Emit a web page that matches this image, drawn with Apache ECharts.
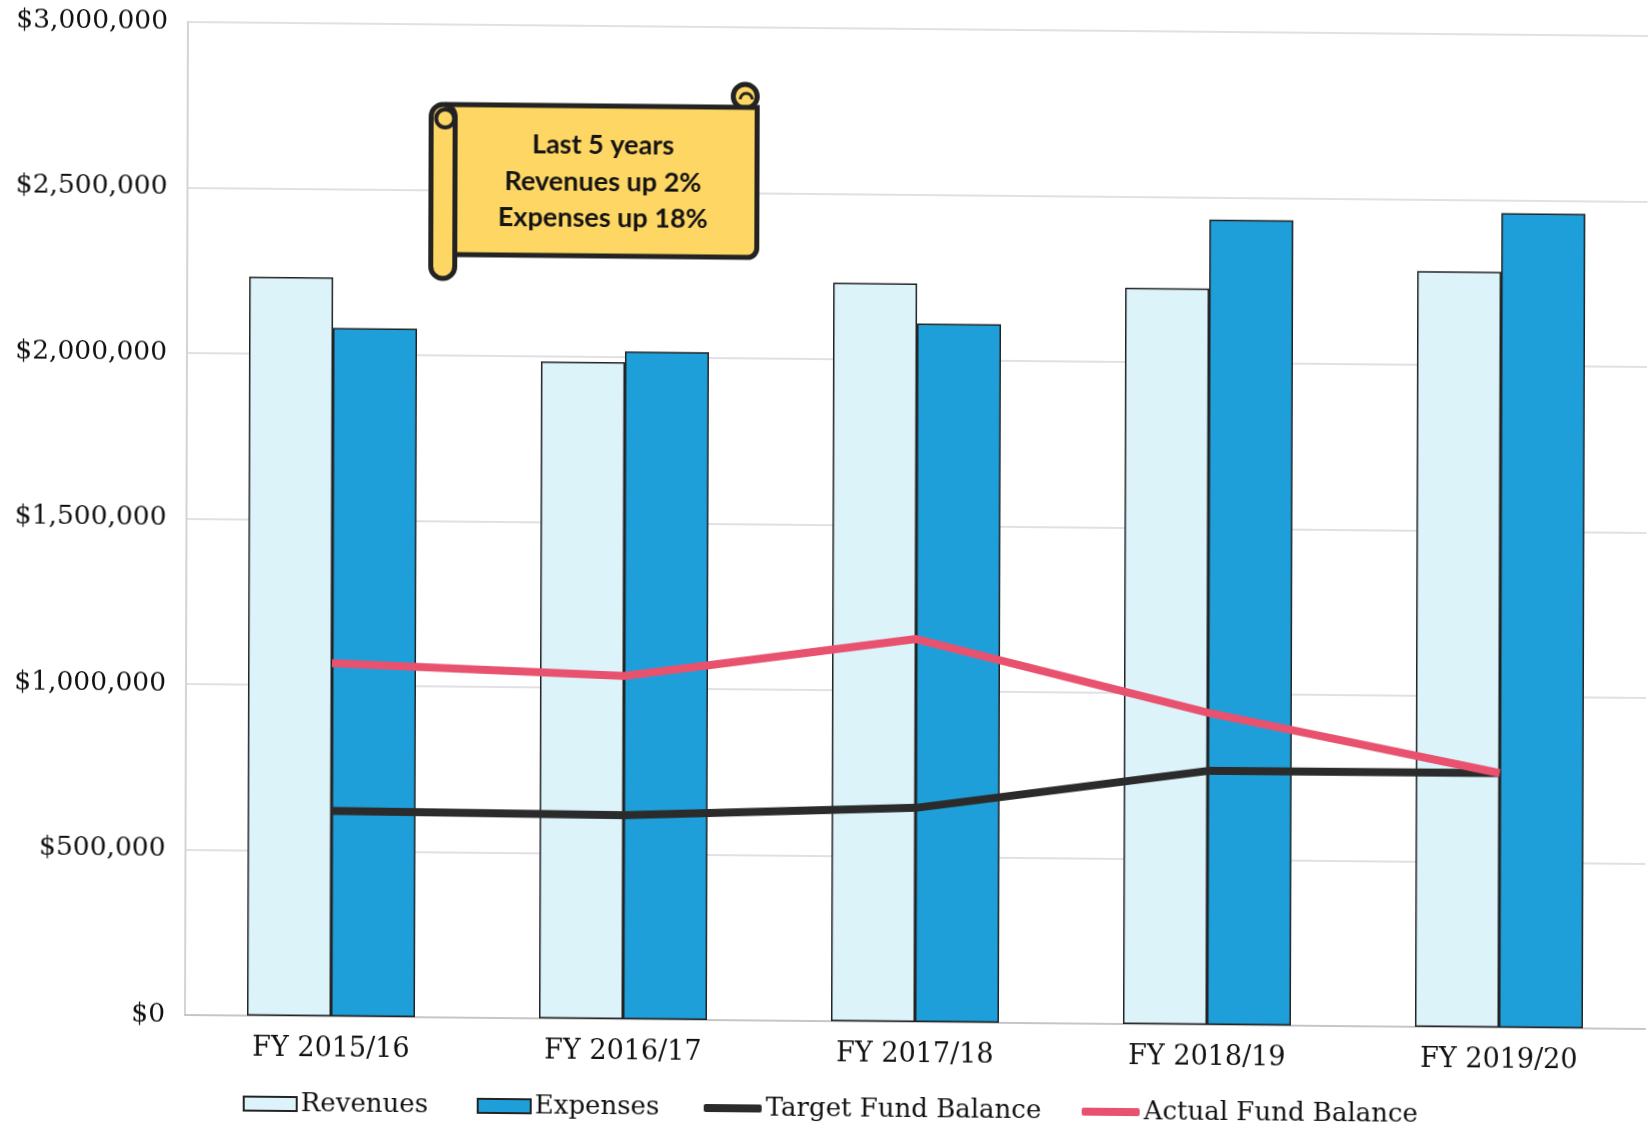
<!DOCTYPE html>
<html>
<head>
<meta charset="utf-8">
<title>Fund balance, revenues and expenses</title>
<script src="https://cdn.jsdelivr.net/npm/echarts@6/dist/echarts.min.js"></script>
<style>
  html, body { margin: 0; padding: 0; background: #fff; overflow: hidden; }
  /* Slight skew of the whole sheet, pivoting on the chart's origin */
  #chart { width: 1651px; height: 1130px; transform-origin: 185px 1015px; transform: matrix(1, 0.0096, -0.003, 1, 0, 0); }
</style>
</head>
<body>
<div id="chart"></div>
<script>
const categories = ['FY 2015/16', 'FY 2016/17', 'FY 2017/18', 'FY 2018/19', 'FY 2019/20'];
const revenues = [2233000, 1985000, 2231000, 2224000, 2283000];
const expenses = [2080000, 2017000, 2110000, 2433000, 2461000];
const targetFundBalance = [621000, 616000, 647000, 767000, 769000];
const actualFundBalance = [1067000, 1037000, 1157000, 943000, 769000];
const calloutLines = ['Last 5 years', 'Revenues up 2%', 'Expenses up 18%'];

const SERIF = '"DejaVu Serif", serif';
const INK = '#232323';
const SCROLL = '#fdd663';
const money = v => '$' + v.toLocaleString('en-US');

function legendEntry(name, left, top, w, h, icon) {
  return {
    data: [{ name, icon }], left, top, itemWidth: w, itemHeight: h, itemGap: 0, padding: 0,
    textStyle: { fontFamily: SERIF, fontSize: 26, color: '#111', padding: [0, 0, 0, -1] }
  };
}

const chart = echarts.init(document.getElementById('chart'));
chart.setOption({
  animation: false,
  backgroundColor: '#fff',
  grid: { left: 185, right: 6, top: 22, bottom: 115 },
  legend: [
    legendEntry('Revenues', 243, 1090, 53, 14, 'rect'),
    legendEntry('Expenses', 477, 1090, 53, 14, 'rect'),
    legendEntry('Target Fund Balance', 704, 1090, 58, 8, 'roundRect'),
    legendEntry('Actual Fund Balance', 1082, 1090, 58, 8, 'roundRect')
  ],
  xAxis: {
    type: 'category',
    data: categories,
    axisTick: { show: false },
    axisLine: { lineStyle: { color: '#c6c6c8', width: 2 } },
    axisLabel: { fontFamily: SERIF, fontSize: 27, color: '#111', margin: 19 }
  },
  yAxis: {
    type: 'value',
    min: 0,
    max: 3000000,
    interval: 500000,
    axisLine: { show: true, lineStyle: { color: '#d4d4d6', width: 2 } },
    axisTick: { show: false },
    splitLine: { lineStyle: { color: '#d6d6de', width: 1.5 } },
    axisLabel: { fontFamily: SERIF, fontSize: 26.5, color: '#111', margin: 20, padding: [6, 0, 0, 0], formatter: money }
  },
  series: [
    { name: 'Revenues', type: 'bar', data: revenues, barWidth: 84, barGap: 0,
      itemStyle: { color: '#dcf3fa', borderColor: INK, borderWidth: 1.5 } },
    { name: 'Expenses', type: 'bar', data: expenses, barWidth: 84, barGap: 0,
      itemStyle: { color: '#1f9fd9', borderColor: INK, borderWidth: 1.5 } },
    { name: 'Target Fund Balance', type: 'line', data: targetFundBalance, symbol: 'none', z: 5,
      lineStyle: { color: '#2b2b2b', width: 8 }, itemStyle: { color: '#2b2b2b' } },
    { name: 'Actual Fund Balance', type: 'line', data: actualFundBalance, symbol: 'none', z: 6,
      lineStyle: { color: '#e8526f', width: 8 }, itemStyle: { color: '#e8526f' } }
  ],
  // Scroll-shaped callout above the first two years
  graphic: [{
    type: 'group', x: -2.5, y: -4,
    children: [
      { type: 'circle', z: 100, shape: { cx: 745, cy: 95, r: 12 }, style: { fill: SCROLL, stroke: INK, lineWidth: 5 } },
      { type: 'arc', z: 101, shape: { cx: 746, cy: 98, r: 6, startAngle: Math.PI, endAngle: 0, clockwise: true }, style: { stroke: INK, fill: 'none', lineWidth: 3 } },
      { type: 'rect', z: 102, shape: { x: 445, y: 106, width: 312, height: 150, r: [0, 0, 9, 0] }, style: { fill: SCROLL, stroke: INK, lineWidth: 5 } },
      { type: 'rect', z: 103, shape: { x: 431, y: 106, width: 24, height: 174, r: 12 }, style: { fill: SCROLL, stroke: INK, lineWidth: 5 } },
      { type: 'circle', z: 104, shape: { cx: 445, cy: 120, r: 9 }, style: { fill: SCROLL, stroke: INK, lineWidth: 4 } },
      { type: 'text', z: 105, x: 603, y: 182, style: {
          text: calloutLines.join('\n'), fill: '#141414', align: 'center', verticalAlign: 'middle',
          font: 'bold 27px Lato, "Open Sans", sans-serif', lineHeight: 36.5 } }
    ]
  }]
});
</script>
</body>
</html>
